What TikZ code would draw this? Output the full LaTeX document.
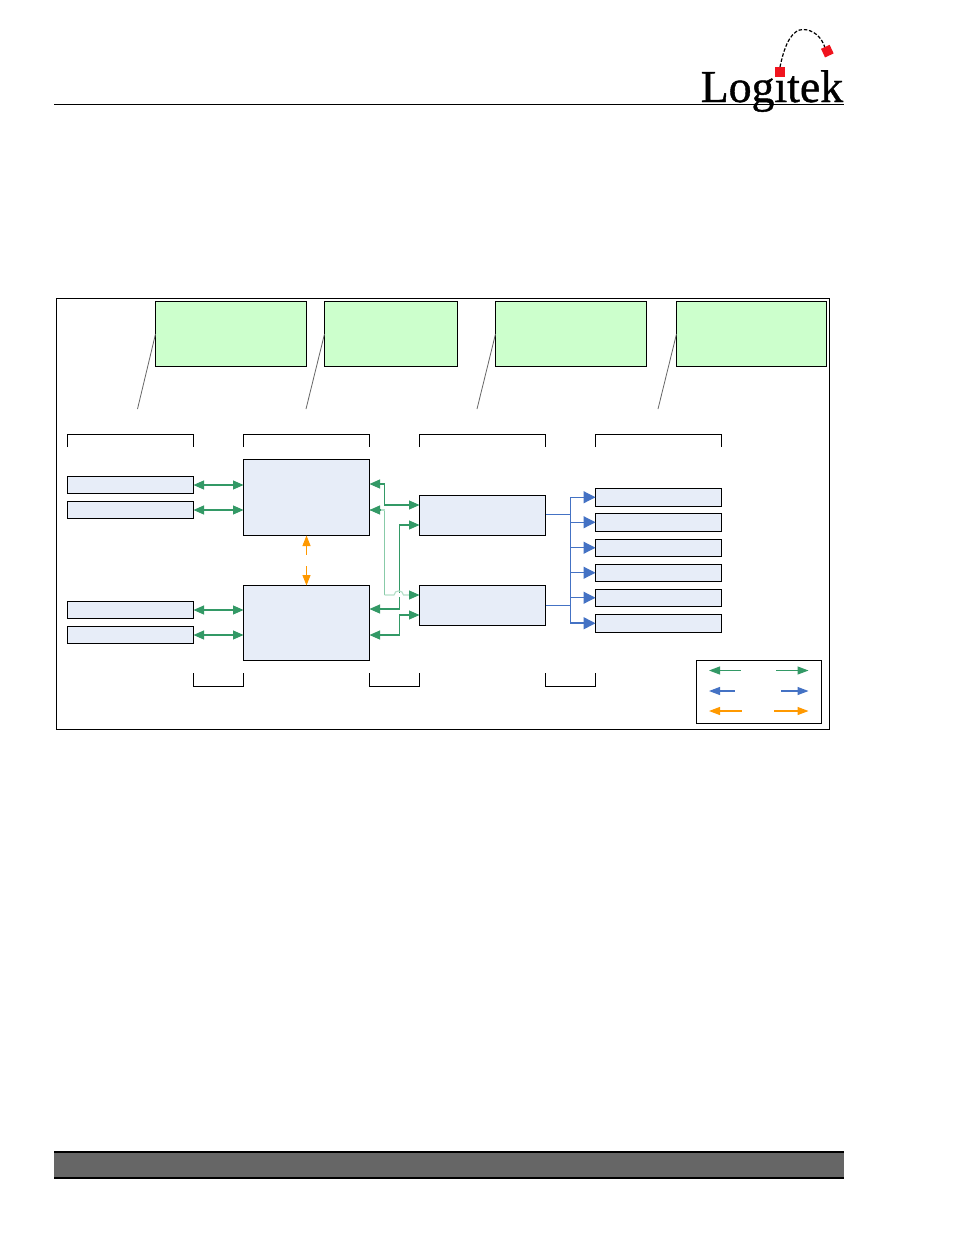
\documentclass[tikz,border=0pt]{standalone}
\usepackage{fontspec}
\setmainfont{Liberation Serif}
\newfontfamily\brandfont[FakeBold=0.9]{Liberation Serif}
\usetikzlibrary{arrows.meta}
\definecolor{pathgreen}{HTML}{339966}
\definecolor{palegreen}{HTML}{88CBA8}
\definecolor{fadegreen}{HTML}{B5DFC8}
\definecolor{pathblue}{HTML}{4472C4}
\definecolor{pathorange}{HTML}{FF9900}
\definecolor{boxblue}{HTML}{E7EDF8}
\definecolor{notegreen}{HTML}{CCFFCC}
\definecolor{bargrey}{HTML}{666666}
\definecolor{logored}{HTML}{F0141E}
\tikzset{
  x=1pt, y=-1pt,
  rect/.style 2 args={draw=black, line width=1pt, inner sep=0pt, outer sep=0pt,
    anchor=north west, minimum width=#1 pt, minimum height=#2 pt},
  unit/.style 2 args={rect={#1}{#2}, fill=boxblue},
  note/.style 2 args={rect={#1}{#2}, fill=notegreen},
  frame/.style 2 args={rect={#1}{#2}, fill=white},
  leader/.style={draw=black!60, line width=0.8pt},
  bracket/.style={draw=black, line width=1pt},
  gtip/.tip={Triangle[length=10.5pt,width=9pt]},
  btip/.tip={Triangle[length=12pt,width=12pt]},
  otip/.tip={Triangle[length=10.5pt,width=8pt]},
  ltip/.tip={Triangle[length=11pt,width=8pt]},
  gline/.style={draw=pathgreen, line width=1.1pt},
  gboth/.style={gline, {gtip}-{gtip}},
  gback/.style={gline, {gtip}-},
  gfwd/.style={gline, -{gtip}},
  bline/.style={draw=pathblue, line width=1.2pt},
  bfwd/.style={bline, -{btip}},
  leg/.style={line width=1.1pt},
  oline/.style={draw=pathorange, line width=1.1pt},
  paleline/.style={draw=palegreen, line width=1.1pt},
  fadeline/.style={draw=fadegreen, line width=1.1pt},
}
\begin{document}
\begin{tikzpicture}
\useasboundingbox (0,0) rectangle (954,1235);

% page header rule and company mark
\node[anchor=base west, inner sep=0pt, font=\brandfont\fontsize{45.8}{46}\selectfont] (brand) at (700.5,102) {Logitek};
\draw[black, line width=1pt] (54,104.5) -- (843.5,104.5);
\draw[black, line width=1.2pt, dash pattern=on 3.5pt off 1.8pt]
  (780,67) .. controls (785,42) and (793,29.5) .. (803,29.5)
           .. controls (813,29.5) and (822,37) .. (825,48);
\fill[logored] (775,67) rectangle (785,76.5);
\fill[logored, rotate around={25:(827,51)}] (822.5,46.5) rectangle (832,56);

% page footer bar
\fill[bargrey] (54,1152) rectangle (844,1178);
\draw[black, line width=2pt] (54,1152) -- (844,1152);
\draw[black, line width=2pt] (54,1178) -- (844,1178);

% outer frame
\node[frame={773}{431}] (outer) at (56.5,298.5) {};

% note boxes
\node[note={151}{65}] (n1) at (155.5,301.5) {};
\node[note={133}{65}] (n2) at (324.5,301.5) {};
\node[note={151}{65}] (n3) at (495.5,301.5) {};
\node[note={150}{65}] (n4) at (676.5,301.5) {};

% leader lines below the notes
\coordinate (l1) at (137.5,409);
\coordinate (l2) at (306,409);
\coordinate (l3) at (477,409);
\coordinate (l4) at (658,409);
\draw[leader] (n1.west) -- (l1);
\draw[leader] (n2.west) -- (l2);
\draw[leader] (n3.west) -- (l3);
\draw[leader] (n4.west) -- (l4);

% column brackets
\draw[bracket] (67.5,447) |- (193.5,434.5) -- (193.5,447);
\draw[bracket] (243.5,447) |- (369.5,434.5) -- (369.5,447);
\draw[bracket] (419.5,447) |- (545.5,434.5) -- (545.5,447);
\draw[bracket] (595.5,447) |- (721.5,434.5) -- (721.5,447);

% source units
\node[unit={126}{17}] (a1) at (67.5,476.5) {};
\node[unit={126}{17}] (a2) at (67.5,501.5) {};
\node[unit={126}{17}] (a3) at (67.5,601.5) {};
\node[unit={126}{17}] (a4) at (67.5,626.5) {};

% main units
\node[unit={126}{76}] (m1) at (243.5,459.5) {};
\node[unit={126}{75}] (m2) at (243.5,585.5) {};

% middle units
\node[unit={126}{40}] (s1) at (419.5,495.5) {};
\node[unit={126}{40}] (s2) at (419.5,585.5) {};

% output units
\node[unit={126}{17.5}] (r1) at (595.5,488.5) {};
\node[unit={126}{17.5}] (r2) at (595.5,513.5) {};
\node[unit={126}{16.5}] (r3) at (595.5,539.5) {};
\node[unit={126}{16.5}] (r4) at (595.5,564.5) {};
\node[unit={126}{16.5}] (r5) at (595.5,589.5) {};
\node[unit={126}{17.5}] (r6) at (595.5,614.5) {};

% lower brackets
\draw[bracket] (193.5,673) |- (243.5,686.5) -- (243.5,673);
\draw[bracket] (369.5,673) |- (419.5,686.5) -- (419.5,673);
\draw[bracket] (545.5,673) |- (595.5,686.5) -- (595.5,673);

% links from source units to main units
\draw[gboth] (a1.east) -- (a1.east -| m1.west);
\draw[gboth] (a2.east) -- (a2.east -| m1.west);
\draw[gboth] (a3.east) -- (a3.east -| m2.west);
\draw[gboth] (a4.east) -- (a4.east -| m2.west);

% link between the main units
\coordinate (ob1) at (306.5,555);
\coordinate (ob2) at (306.5,566);
\draw[oline, {otip}-] (m1.south) -- (ob1);
\draw[oline, -{otip}] (ob2) -- (m2.north);

% links from main units to middle units
\coordinate (pale1) at (384.5,510);
\coordinate (pale2) at (384.5,595);
\coordinate (hop1) at (394,595);
\coordinate (hop2) at (403.5,595);
\coordinate (pale3) at (409.5,595);
\draw[paleline] (pale1) -- (pale2);
\draw[fadeline] (pale1) -- ([yshift=-12.5pt]m1.east);
\draw[gboth] ([yshift=13.5pt]m1.east) -- ++(15,0) |- ([yshift=10.5pt]s1.west);
\draw[gboth] ([yshift=14pt]m2.east) -- ++(30,0) |- ([yshift=-9.5pt]s1.west);
\draw[gboth] ([yshift=-12pt]m2.east) -- ++(30,0) |- ([yshift=-9.5pt]s2.west);
% the pale run hops over the vertical at x=399.5
\fill[white] (394.5,593) rectangle (403,597);
\draw[fadeline] (pale2) -- (hop1) .. controls (394.5,589.5) and (403,589.5) .. (hop2) -- (pale3);
\draw[gback] ([yshift=-12.5pt]m1.east) -- ++(10.5,0);
\draw[gfwd] (pale3) -- ([yshift=10.5pt]s2.west);

% bus to the output units
\coordinate (bus) at (570.5,514.5);
\draw[bline] ([yshift=1pt]s1.east) -- (bus);
\draw[bline] (s2.east) -- (s2.east -| bus);
\draw[bfwd] (bus) |- (r1.west);
\draw[bfwd] (bus) |- (r2.west);
\draw[bfwd] (bus) |- (r3.west);
\draw[bfwd] (bus) |- (r4.west);
\draw[bfwd] (bus) |- (r5.west);
\draw[bfwd, line width=1.6pt] (bus) |- (r6.west);

% key
\node[frame={125}{63}] (key) at (696.5,660.5) {};
\coordinate (k1a) at (709,670.5); \coordinate (k1b) at (740.5,670.5);
\coordinate (k1c) at (776,670.5); \coordinate (k1d) at (808.5,670.5);
\coordinate (k2a) at (709,691);   \coordinate (k2b) at (735,691);
\coordinate (k2c) at (781,691);   \coordinate (k2d) at (808.5,691);
\coordinate (k3a) at (709,711);   \coordinate (k3b) at (742,711);
\coordinate (k3c) at (774,711);   \coordinate (k3d) at (808.5,711);
\draw[leg, pathgreen, {ltip}-] (k1a) -- (k1b);
\draw[leg, pathgreen, -{ltip}] (k1c) -- (k1d);
\draw[leg, pathblue, {ltip}-] (k2a) -- (k2b);
\draw[leg, pathblue, -{ltip}] (k2c) -- (k2d);
\draw[leg, pathorange, {ltip}-] (k3a) -- (k3b);
\draw[leg, pathorange, -{ltip}] (k3c) -- (k3d);
\end{tikzpicture}
\end{document}
